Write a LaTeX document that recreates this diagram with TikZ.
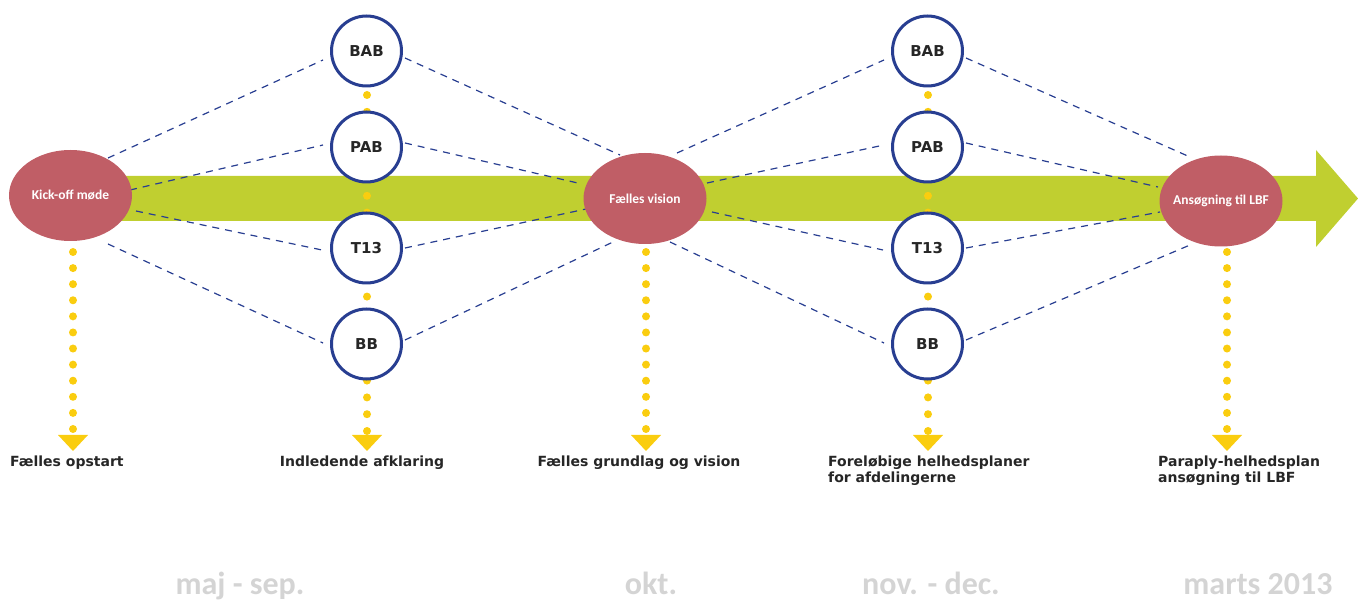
\documentclass[tikz,border=0pt]{standalone}
\usepackage{fontspec}
\setmainfont{DejaVu Sans}
\newfontfamily\carlito{Carlito}
\usetikzlibrary{shapes.geometric,calc,backgrounds}
\definecolor{bandgreen}{RGB}{192,207,48}
\definecolor{ellred}{RGB}{192,94,102}
\definecolor{cblue}{RGB}{40,62,145}
\definecolor{dotyel}{RGB}{250,205,15}
\definecolor{txtdark}{RGB}{38,38,38}
\definecolor{monthgray}{RGB}{212,212,212}
\begin{document}
\begin{tikzpicture}[x=1pt,y=-1pt,
  phase/.style={ellipse, fill=ellred, minimum width=123pt, minimum height=91pt, inner sep=0pt, text=white, font=\carlito\bfseries\fontsize{13.5}{15}\selectfont},
  group/.style={circle, draw=cblue, line width=3pt, fill=white, minimum size=70pt, inner sep=0pt, text=txtdark, font=\bfseries\fontsize{15}{17}\selectfont},
  link/.style={draw=cblue, line width=1.2pt, dash pattern=on 7pt off 6pt},
  dotline/.style={draw=dotyel, line width=8pt, line cap=round},
  tip/.style={fill=dotyel},
  result/.style={text=txtdark, font=\bfseries\fontsize{14}{16}\selectfont, inner sep=0pt},
  month/.style={text=monthgray, font=\carlito\bfseries\fontsize{32}{36}\selectfont, inner sep=0pt}]
\useasboundingbox (0,0) rectangle (1358,601);

% phases
\node[phase] (kick) at (70.5,195.5) {\makebox[0pt]{Kick-off møde}};
\node[phase] (vis) at (645,198.5) {\makebox[0pt]{Fælles vision}};
\node[phase] (ans) at (1221,201) {\makebox[0pt]{Ansøgning til LBF}};

% groups
\node[group] (b1) at (366.5,51) {BAB};
\node[group] (p1) at (366.5,147) {PAB};
\node[group] (t1) at (366.5,248) {T13};
\node[group] (bb1) at (366.5,344) {BB};
\node[group] (b2) at (927.5,51) {BAB};
\node[group] (p2) at (927.5,147) {PAB};
\node[group] (t2) at (927.5,248) {T13};
\node[group] (bb2) at (927.5,344) {BB};

% arrow tips
\coordinate (tip1) at (73,451);
\coordinate (tip2) at (367,451);
\coordinate (tip3) at (646,451);
\coordinate (tip4) at (928,451);
\coordinate (tip5) at (1227,451);
\foreach \t in {tip1,tip2,tip3,tip4,tip5}
  \fill[tip] ($(\t)+(-15,-16)$) -- ($(\t)+(15,-16)$) -- (\t) -- cycle;

\begin{scope}[on background layer]
  % timeline band
  \fill[bandgreen] (100,176) -- (1316,176) -- (1316,150) -- (1358,198.5) -- (1316,247) -- (1316,221) -- (100,221) -- cycle;
  % links
  \draw[link] ($(kick)+(37.5,-37.5)$) -- ($(b1)+(-43.5,9)$);
  \draw[link] ($(kick)+(59.5,-5.5)$) -- ($(p1)+(-43.5,-2)$);
  \draw[link] ($(kick)+(65.5,15.5)$) -- ($(t1)+(-44.5,2)$);
  \draw[link] ($(kick)+(37.5,48.5)$) -- ($(bb1)+(-43.5,-1)$);
  \draw[link] ($(b1)+(38.5,7)$) -- ($(vis)+(-25,-43.5)$);
  \draw[link] ($(p1)+(38.5,-4)$) -- ($(vis)+(-63,-14.5)$);
  \draw[link] ($(t1)+(38.5,0)$) -- ($(vis)+(-59,10.5)$);
  \draw[link] ($(bb1)+(38.5,-4)$) -- ($(vis)+(-32,43.5)$);
  \draw[link] ($(vis)+(32,-45.5)$) -- ($(b2)+(-43.5,9)$);
  \draw[link] ($(vis)+(62,-15.5)$) -- ($(p2)+(-43.5,-2)$);
  \draw[link] ($(vis)+(67,13.5)$) -- ($(t2)+(-44.5,2)$);
  \draw[link] ($(vis)+(25,43.5)$) -- ($(bb2)+(-43.5,-1)$);
  \draw[link] ($(b2)+(38.5,7)$) -- ($(ans)+(-31,-44)$);
  \draw[link] ($(p2)+(38.5,-4)$) -- ($(ans)+(-63,-14)$);
  \draw[link] ($(t2)+(38.5,0)$) -- ($(ans)+(-61,11)$);
  \draw[link] ($(bb2)+(38.5,-4)$) -- ($(ans)+(-31,44)$);
  % dotted drops
  \draw[dotline, dash pattern=on 0pt off 16.09pt] (73,252) -- ($(tip1)+(0,-21)$);
  \draw[dotline, dash pattern=on 0pt off 16.8pt] (367,95) -- ($(tip2)+(0,-19.5)$);
  \draw[dotline, dash pattern=on 0pt off 16.09pt] (646,252) -- ($(tip3)+(0,-21)$);
  \draw[dotline, dash pattern=on 0pt off 16.8pt] (928,95) -- ($(tip4)+(0,-19.5)$);
  \draw[dotline, dash pattern=on 0pt off 16.09pt] (1227,252) -- ($(tip5)+(0,-21)$);
\end{scope}

% results
\node[result, anchor=base west] (r1) at (10,467) {Fælles opstart};
\node[result, anchor=base] (r2) at (362,467) {Indledende afklaring};
\node[result, anchor=base] (r3) at (639,467) {Fælles grundlag og vision};
\node[result, anchor=north west, align=left] (r4) at (828,455.5) {Foreløbige helhedsplaner\\for afdelingerne};
\node[result, anchor=north west, align=left] (r5) at (1158,455.5) {Paraply-helhedsplan\\ansøgning til LBF};

% months
\node[month, anchor=base] (m1) at (240,594) {maj - sep.};
\node[month, anchor=base] (m2) at (651,594) {okt.};
\node[month, anchor=base] (m3) at (931,594) {nov. - dec.};
\node[month, anchor=base] (m4) at (1258,594) {marts 2013};
\end{tikzpicture}
\end{document}
